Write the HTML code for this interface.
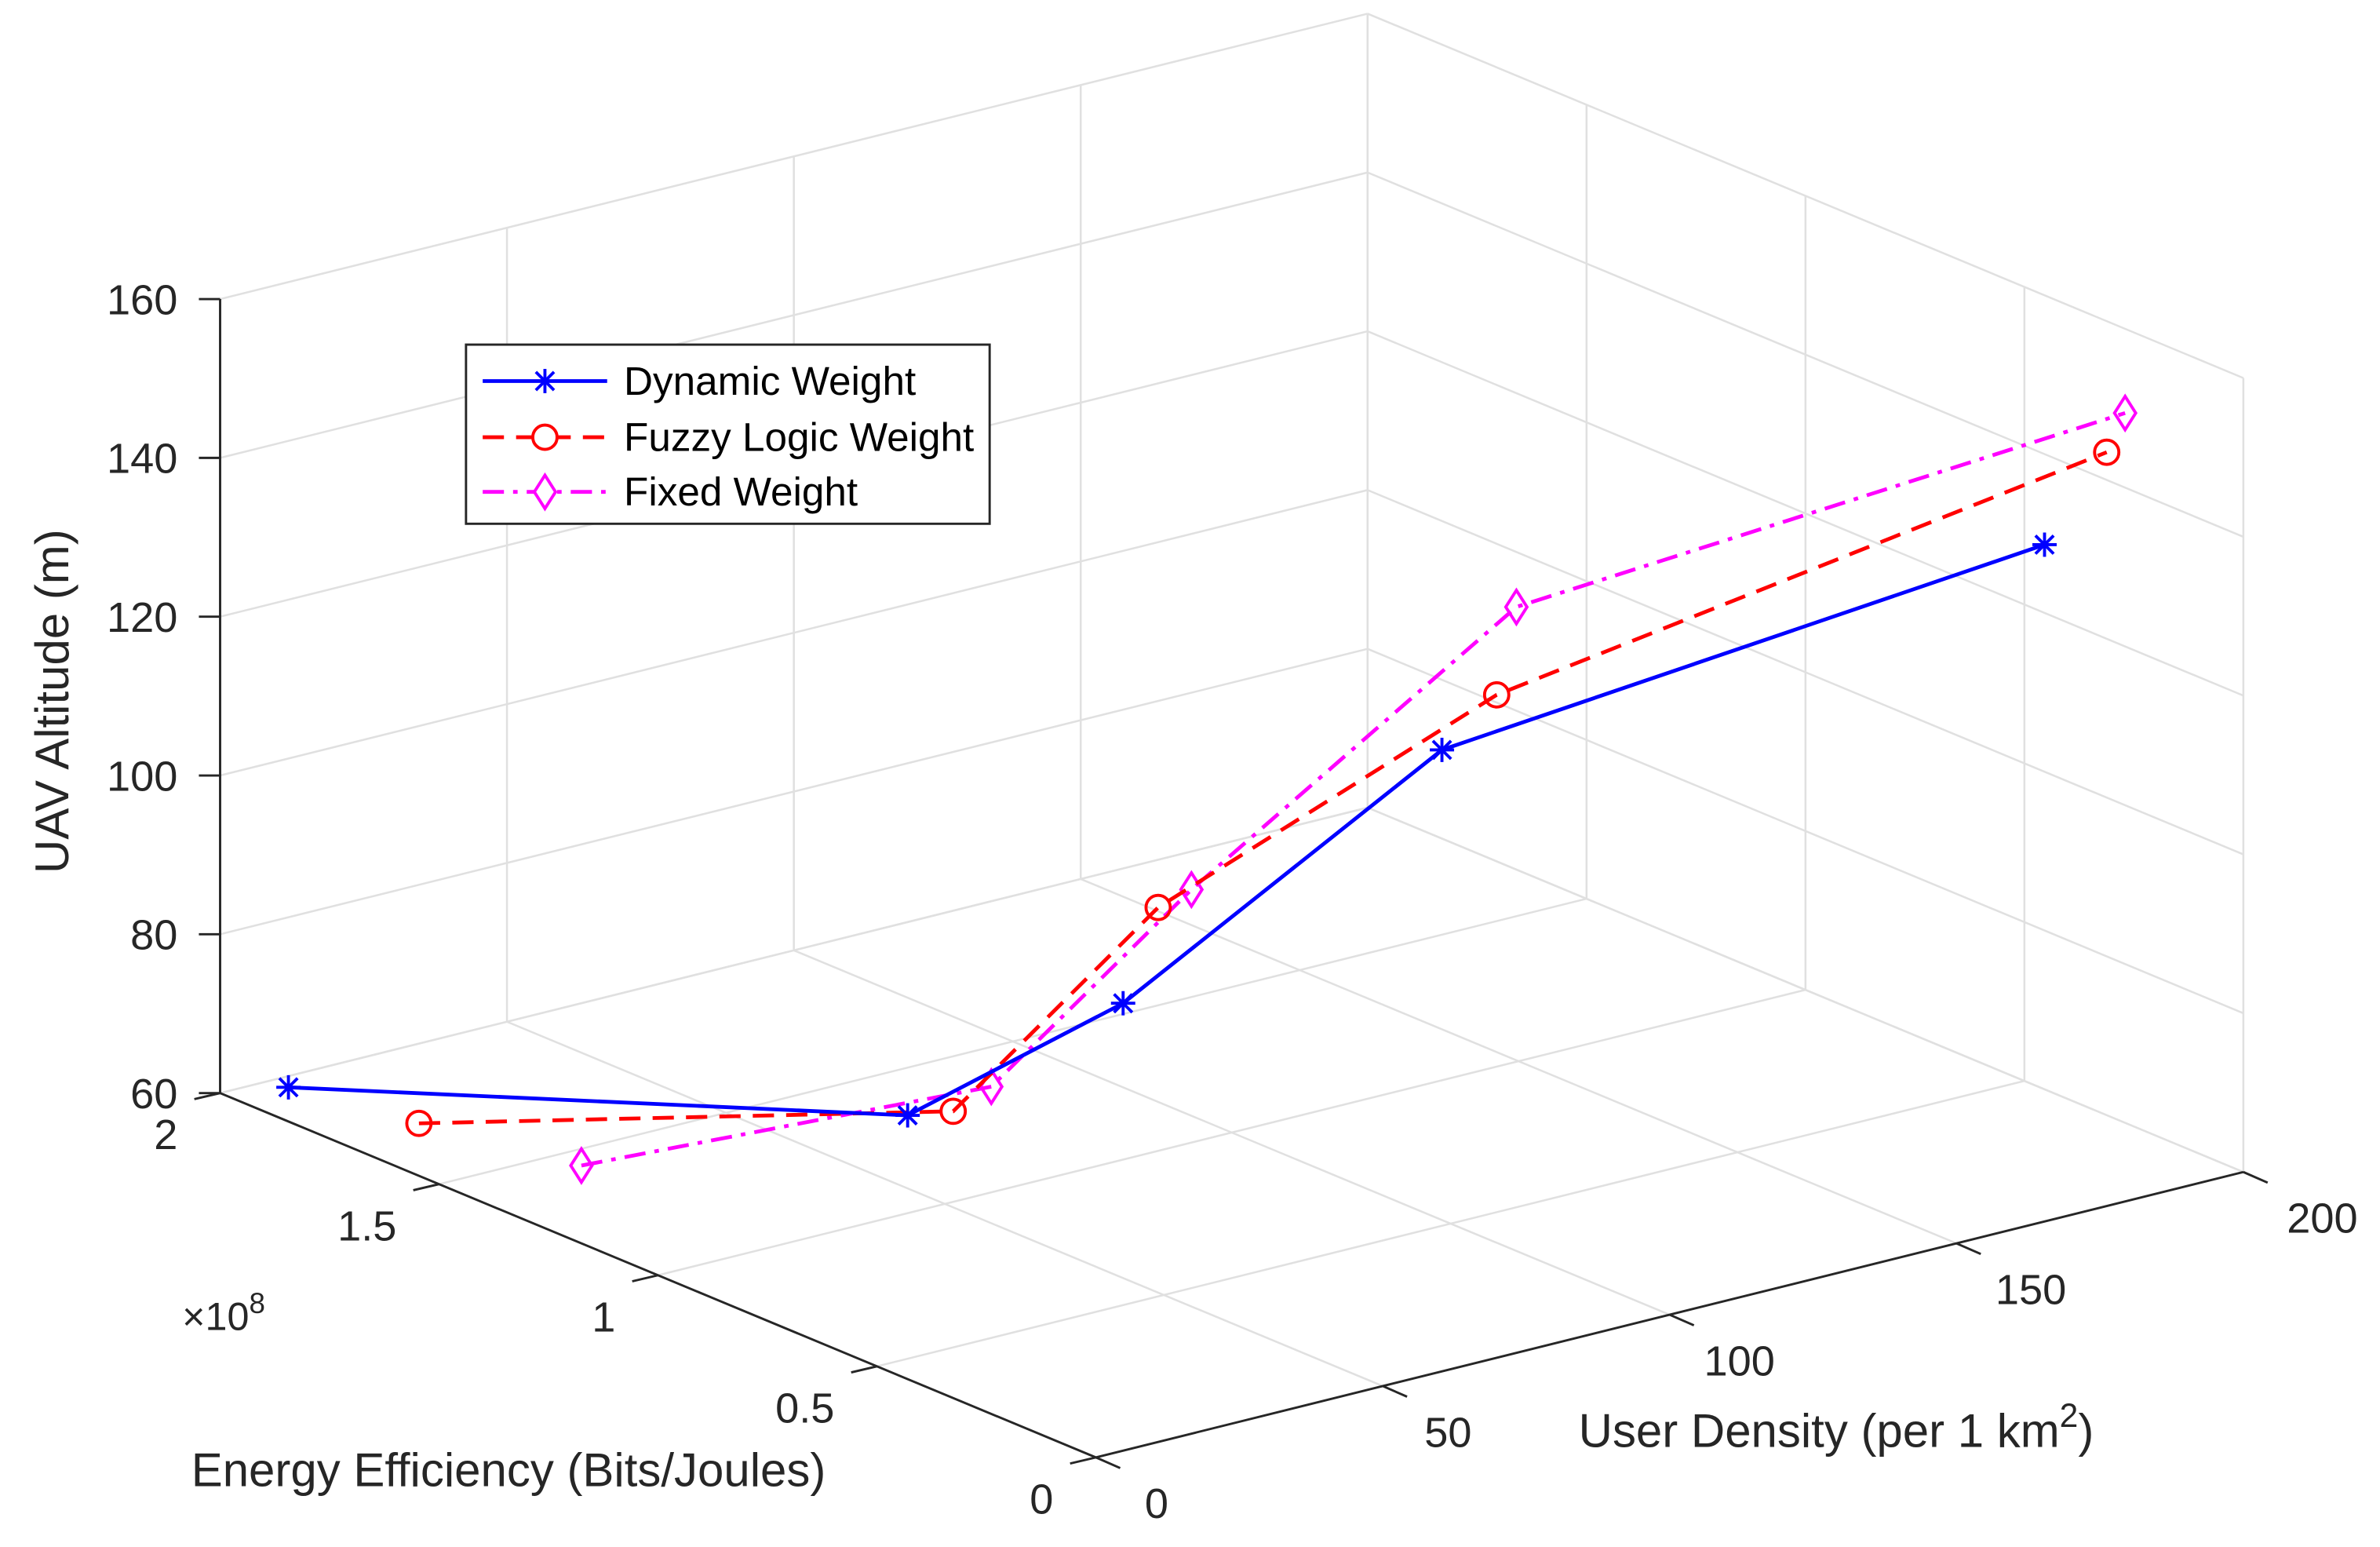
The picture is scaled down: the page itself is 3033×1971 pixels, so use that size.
<!DOCTYPE html>
<html><head><meta charset="utf-8"><style>
html,body{margin:0;padding:0;background:#fff;}
svg{display:block;font-family:"Liberation Sans",Arial,sans-serif;}
</style></head><body>
<svg id="chart" width="3033" height="1971" viewBox="0 0 1568 1019" xmlns="http://www.w3.org/2000/svg">
<g id="grid"></g>
<g id="axes"></g>
<g id="series"></g>
<g id="legend">
<rect x="307" y="227" width="345" height="118" fill="#fff" stroke="#262626" stroke-width="1.5"/>
<g>
<line x1="318" y1="251" x2="400" y2="251" stroke="#0000ff" stroke-width="2.5"/>
<g transform="translate(359,251)" stroke="#0000ff" stroke-width="2"><line x1="-8" y1="0" x2="8" y2="0"/><line x1="0" y1="-8" x2="0" y2="8"/><line x1="-6" y1="-6" x2="6" y2="6"/><line x1="-6" y1="6" x2="6" y2="-6"/></g>
<text x="411" y="260" font-size="26.5" fill="#000">Dynamic Weight</text></g>
<g>
<line x1="318" y1="288" x2="400" y2="288" stroke="#ff0000" stroke-width="2.5" stroke-dasharray="14 8"/>
<circle cx="359" cy="288" r="8" fill="#fff" stroke="#ff0000" stroke-width="2"/>
<text x="411" y="297" font-size="26.5" fill="#000">Fuzzy Logic Weight</text></g>
<g>
<line x1="318" y1="324" x2="400" y2="324" stroke="#ff00ff" stroke-width="2.5" stroke-dasharray="14 6 3 6"/>
<path d="M359 313 L366 324 L359 335 L352 324 Z" fill="#fff" stroke="#ff00ff" stroke-width="2"/>
<text x="411" y="333" font-size="26.5" fill="#000">Fixed Weight</text></g>
</g>
</svg>
<script>
const userTicks = [0, 50, 100, 150, 200];
const eeTicks = [0, 0.5, 1, 1.5, 2];
const eeTickLabels = ["0", "0.5", "1", "1.5", "2"];
const zTicks = [60, 80, 100, 120, 140, 160];
const userDensity = [10, 50, 80, 120, 180];
const dynEE = [1.975, 1.085, 0.986, 0.782, 0.192];
const dynAlt = [59.5, 69.2, 80.2, 109.6, 138.2];
const fuzzyEE = [1.677, 0.981, 0.906, 0.657, 0.05];
const fuzzyAlt = [61.8, 72.1, 94.1, 119.4, 153.1];
const fixedEE = [1.306, 0.894, 0.830, 0.612, 0.008];
const fixedAlt = [65.0, 77.2, 98.1, 131.5, 159.0];

const NS = "http://www.w3.org/2000/svg";
const O = [722, 960];
function P(u, e, z) {
  return [O[0] + u / 200 * 756 - e / 2 * 577, O[1] - u / 200 * 188 - e / 2 * 240 - (z - 60) * 5.23];
}
function mk(tag, attrs, parent) {
  const el = document.createElementNS(NS, tag);
  for (const k in attrs) el.setAttribute(k, attrs[k]);
  parent.appendChild(el);
  return el;
}
function line(a, b, stroke, w, parent, name) {
  const el = mk("line", {x1: a[0], y1: a[1], x2: b[0], y2: b[1], stroke: stroke, "stroke-width": w}, parent);
  
  
  return el;
}
const grid = document.getElementById("grid");
const gc = "#e0e0e0";
userTicks.forEach(u => line(P(u, 0, 60), P(u, 2, 60), gc, 1.3, grid, "floor-grid-line"));
eeTicks.forEach(e => line(P(0, e, 60), P(200, e, 60), gc, 1.3, grid, "floor-grid-line"));
userTicks.forEach(u => line(P(u, 2, 60), P(u, 2, 160), gc, 1.3, grid, "back-wall-grid-line"));
zTicks.forEach(z => line(P(0, 2, z), P(200, 2, z), gc, 1.3, grid, "back-wall-grid-line"));
eeTicks.forEach(e => line(P(200, e, 60), P(200, e, 160), gc, 1.3, grid, "side-wall-grid-line"));
zTicks.forEach(z => line(P(200, 0, z), P(200, 2, z), gc, 1.3, grid, "side-wall-grid-line"));

const axes = document.getElementById("axes");
const ac = "#262626";
line(P(0, 0, 60), P(200, 0, 60), ac, 1.5, axes, "x-axis-line");
line(P(0, 0, 60), P(0, 2, 60), ac, 1.5, axes, "y-axis-line");
line(P(0, 2, 60), P(0, 2, 160), ac, 1.5, axes, "z-axis-line");
function txt(s, x, y, anchor, size, name, parent) {
  const t = mk("text", {x: x, y: y, "text-anchor": anchor, "font-size": size, fill: "#262626"}, parent || axes);
  t.textContent = s;
  
  
  return t;
}
userTicks.forEach(u => {
  const a = P(u, 0, 60);
  line(a, [a[0] + 16, a[1] + 7], ac, 1.5, axes, "x-tick");
  txt(String(u), a[0] + 40 + u * 0.06, a[1] + 40, "middle", 28, "x-tick-label");
});
eeTicks.forEach((e, i) => {
  const a = P(0, e, 60);
  line(a, [a[0] - 17, a[1] + 4], ac, 1.5, axes, "y-tick");
  txt(eeTickLabels[i], a[0] - 28, a[1] + 37, "end", 28, "y-tick-label");
});
zTicks.forEach(z => {
  const a = P(0, 2, z);
  line(a, [a[0] - 14, a[1]], ac, 1.5, axes, "z-tick");
  txt(String(z), a[0] - 28, a[1] + 10, "end", 28, "z-tick-label");
});
const ex = txt("×10", 120, 876, "start", 26, "y-exponent-label");
const sup = mk("tspan", {dy: -11, "font-size": 19}, ex); sup.textContent = "8";
txt("Energy Efficiency (Bits/Joules)", 335, 979, "middle", 31, "y-axis-title");
const ud = txt("User Density (per 1 km", 1040, 953, "start", 31, "x-axis-title");
const s2 = mk("tspan", {dy: -13, "font-size": 22}, ud); s2.textContent = "2";
const s3 = mk("tspan", {dy: 13}, ud); s3.textContent = ")";
const zt = txt("UAV Altitude (m)", 0, 0, "middle", 31, "z-axis-title");
zt.setAttribute("transform", "translate(45,462) rotate(-90)");

const series = document.getElementById("series");
function drawSeries(ee, alt, color, dash, marker, name) {
  const g = mk("g", {}, series);
  
  
  const pts = userDensity.map((u, i) => P(u, ee[i], alt[i]));
  const pl = mk("polyline", {points: pts.map(p => p.join(",")).join(" "), fill: "none", stroke: color, "stroke-width": 2.5, "stroke-dasharray": dash}, g);
  
  
  pts.forEach(p => {
    let m;
    if (marker === "star") {
      m = mk("g", {transform: `translate(${p[0]},${p[1]})`, stroke: color, "stroke-width": 2}, g);
      mk("line", {x1: -8, y1: 0, x2: 8, y2: 0}, m); mk("line", {x1: 0, y1: -8, x2: 0, y2: 8}, m);
      mk("line", {x1: -6, y1: -6, x2: 6, y2: 6}, m); mk("line", {x1: -6, y1: 6, x2: 6, y2: -6}, m);
    } else if (marker === "circle") {
      m = mk("circle", {cx: p[0], cy: p[1], r: 8, fill: "none", stroke: color, "stroke-width": 2}, g);
    } else {
      m = mk("path", {d: `M${p[0]} ${p[1]-11} L${p[0]+7} ${p[1]} L${p[0]} ${p[1]+11} L${p[0]-7} ${p[1]} Z`, fill: "none", stroke: color, "stroke-width": 2}, g);
    }
    
    
  });
}
drawSeries(fixedEE, fixedAlt, "#ff00ff", "14 6 3 6", "diamond", "fixed-weight-series");
drawSeries(fuzzyEE, fuzzyAlt, "#ff0000", "14 8", "circle", "fuzzy-logic-series");
drawSeries(dynEE, dynAlt, "#0000ff", "none", "star", "dynamic-weight-series");
</script>
</body></html>
